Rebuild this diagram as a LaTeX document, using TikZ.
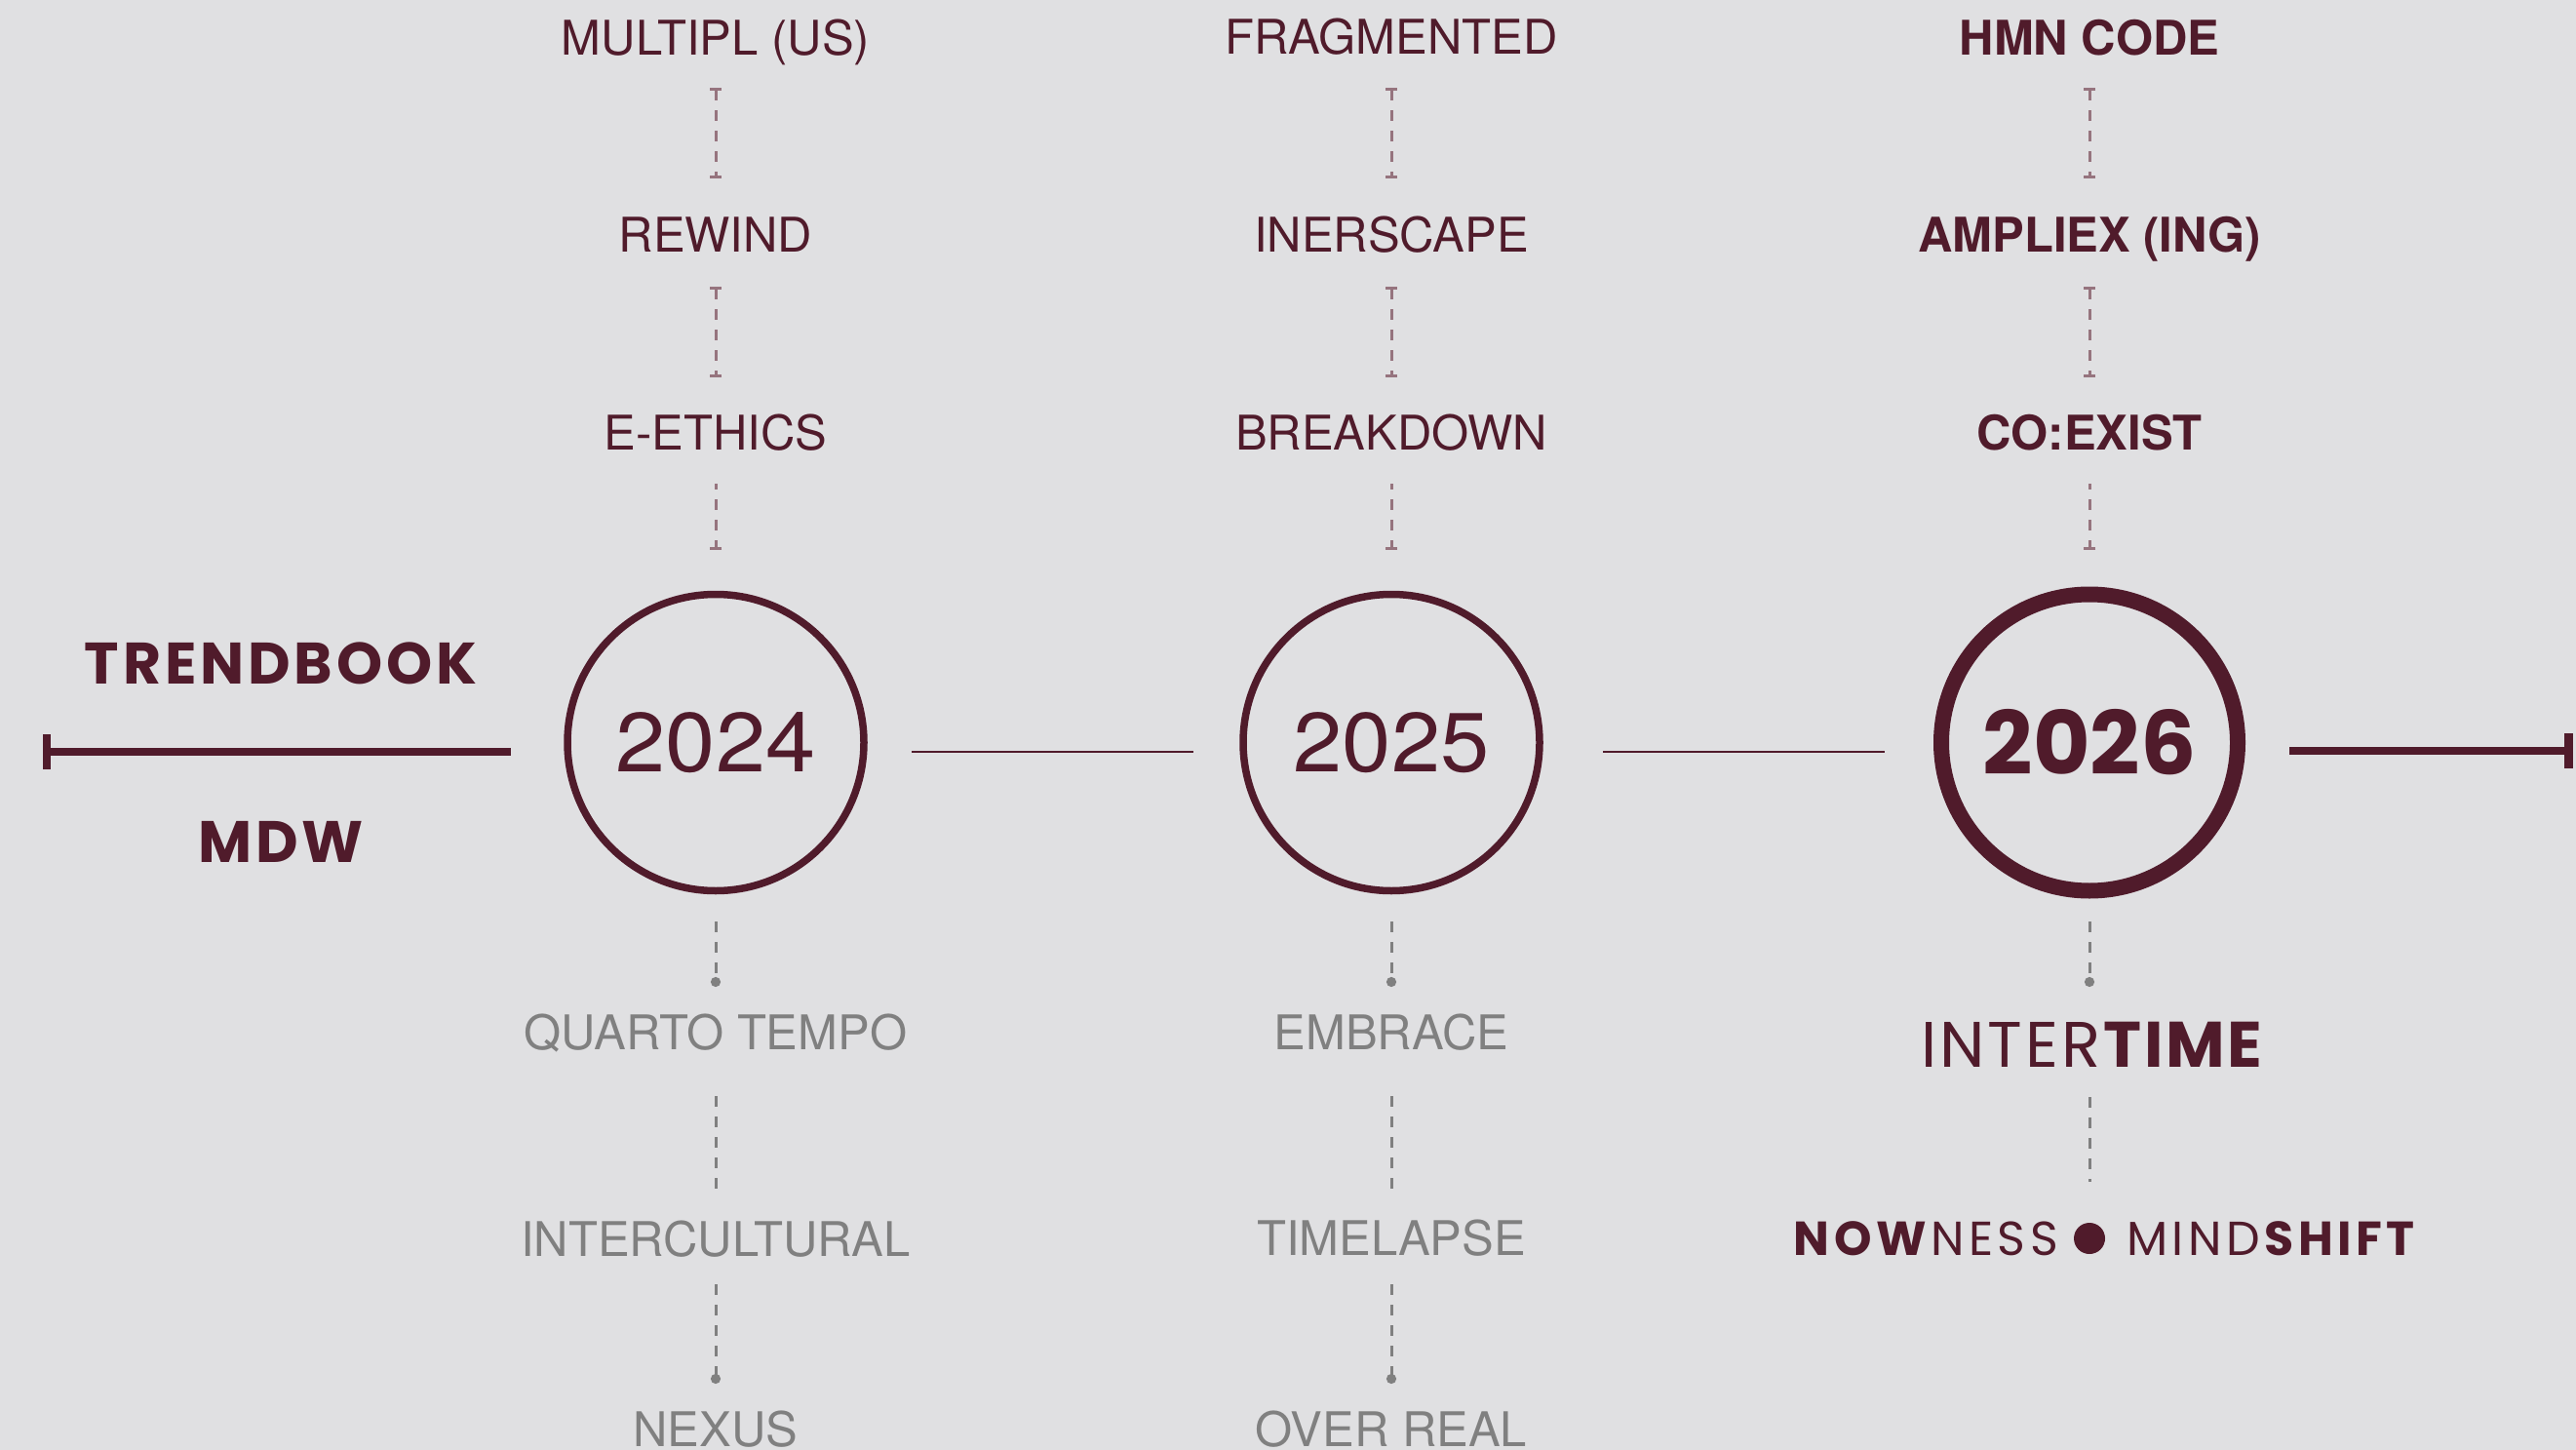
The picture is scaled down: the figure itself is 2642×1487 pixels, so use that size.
\documentclass[tikz,border=0pt]{standalone}
\usepackage{fontspec}
\setmainfont{TeX Gyre Heros}
\newfontfamily\geo{Poppins}
\newfontfamily\geoA[LetterSpace=6.5]{Poppins}
\newfontfamily\geoB[LetterSpace=4.4]{Poppins}
\newfontfamily\geoC[LetterSpace=9.2]{Poppins}
\usetikzlibrary{arrows.meta}
\definecolor{mrn}{RGB}{80,27,43}
\definecolor{mauve}{RGB}{150,116,126}
\definecolor{grey1}{RGB}{128,128,128}
\definecolor{bgc}{RGB}{224,224,226}
\begin{document}
\begin{tikzpicture}[x=1pt,y=-1pt,
  lab/.style={inner sep=0pt, outer sep=0pt, anchor=base, text=mrn, font=\fontsize{49}{50}\selectfont},
  labb/.style={lab, font=\fontsize{49}{50}\selectfont\bfseries},
  glab/.style={lab, text=grey1},
  yearc/.style={circle, draw=mrn, line width=7.5pt, minimum size=304pt, inner sep=0pt, text=mrn, font=\fontsize{86}{86}\selectfont},
  yearcb/.style={yearc, line width=16pt, font=\fontsize{90}{90}\selectfont\geo\bfseries},
  tdash/.style={draw=mauve, line width=3pt, dash pattern=on 11pt off 10pt},
  capboth/.style={arrows={Bar[width=12pt]-Bar[width=12pt]}},
  capend/.style={arrows={-Bar[width=12pt]}},
  gdash/.style={draw=grey1, line width=3pt, dash pattern=on 11pt off 10pt},
  dotend/.style={arrows={-Circle[length=10pt,width=10pt]}},
  mainline/.style={draw=mrn, line width=8pt, line cap=butt},
  thinline/.style={draw=mrn, line width=2pt},
  geob/.style={inner sep=0pt, outer sep=0pt, anchor=base, text=mrn, font=\fontsize{60}{60}\selectfont\geoA\bfseries},
]
\useasboundingbox (0,0) rectangle (2642,1487);
\fill[bgc] (0,0) rectangle (2642,1487);

% main timeline
\coordinate (la) at (48,770.5);
\coordinate (lb) at (524,770.5);
\coordinate (lbt) at (48,753);
\coordinate (lbb) at (48,789);
\draw[mainline] (la) -- (lb);
\draw[mainline] (lbt) -- (lbb);
\coordinate (ra) at (2348,770);
\coordinate (rb) at (2634,770);
\coordinate (rbt) at (2634,752);
\coordinate (rbb) at (2634,788);
\draw[mainline] (ra) -- (rb);
\draw[mainline, line width=9pt] (rbt) -- (rbb);

% year circles
\node[yearc] (c24) at (734,761.5) {\scalebox{1.07}[1]{2024}};
\node[yearc] (c25) at (1427,761.5) {\scalebox{1.05}[1]{2025}};
\node[yearcb] (c26) at (2143,761.5) {2026};
\coordinate (h1a) at (935,770.5);
\coordinate (h1b) at (1224,770.5);
\coordinate (h2a) at (1644,770.5);
\coordinate (h2b) at (1933,770.5);
\draw[thinline] (h1a) -- (h1b);
\draw[thinline] (h2a) -- (h2b);

% left titles
\node[geob] (tb) at (288,701) {TRENDBOOK};
\node[geob] (mdw) at (288,884) {MDW};

% column 2024 top
\node[lab] (a1) at (734,57) {MULTIPL (US)};
\node[lab] (a2) at (734,259) {REWIND};
\node[lab] (a3) at (734,461) {E-ETHICS};
% column 2025 top
\node[lab] (b1) at (1427,56) {FRAGMENTED};
\node[lab] (b2) at (1427,259) {INERSCAPE};
\node[lab] (b3) at (1427,461) {BREAKDOWN};
% column 2026 top
\node[labb] (e1) at (2143,57) {HMN CODE};
\node[labb] (e2) at (2143,259) {AMPLIEX (ING)};
\node[labb] (e3) at (2143,461) {CO:EXIST};

% top dashed connectors
\foreach \c/\n in {734/a, 1427/b, 2143/e}{
  \coordinate (\n t1s) at (\c,90);
  \coordinate (\n t1e) at (\c,183);
  \coordinate (\n t2s) at (\c,294);
  \coordinate (\n t2e) at (\c,387);
  \coordinate (\n t3s) at (\c,496);
  \coordinate (\n t3e) at (\c,564);
  \draw[tdash, capboth] (\n t1s) -- (\n t1e);
  \draw[tdash, capboth] (\n t2s) -- (\n t2e);
  \draw[tdash, capend, dash phase=5pt] (\n t3s) -- (\n t3e);
}

% bottom 2024
\node[glab] (a4) at (734,1076) {QUARTO TEMPO};
\node[glab] (a5) at (734,1288) {INTERCULTURAL};
\node[glab] (a6) at (734,1483) {NEXUS};
% bottom 2025
\node[glab] (b4) at (1427,1076) {EMBRACE};
\node[glab] (b5) at (1427,1287) {TIMELAPSE};
\node[glab] (b6) at (1427,1483) {OVER REAL};
% bottom 2026
\node[inner sep=0pt, anchor=base, text=mrn, font=\fontsize{66}{66}\selectfont\geoB] (e4) at (2147,1094) {INTER\textbf{TIME}};
\node[inner sep=0pt, anchor=base east, text=mrn, font=\fontsize{49}{49}\selectfont\geoC] (e5a) at (2111,1287) {\textbf{NOW}NESS};
\node[inner sep=0pt, anchor=base west, text=mrn, font=\fontsize{49}{49}\selectfont\geoC] (e5b) at (2181,1287) {MIND\textbf{SHIFT}};
\node[circle, fill=mrn, minimum size=32pt, inner sep=0pt] (e5dot) at (2143,1270) {};

% bottom dashed connectors
\foreach \c/\n in {734/a, 1427/b}{
  \coordinate (\n b1s) at (\c,945);
  \coordinate (\n b1e) at (\c,1012);
  \coordinate (\n b2s) at (\c,1124);
  \coordinate (\n b2e) at (\c,1227);
  \coordinate (\n b3s) at (\c,1317);
  \coordinate (\n b3e) at (\c,1419);
  \draw[gdash, dotend] (\n b1s) -- (\n b1e);
  \draw[gdash] (\n b2s) -- (\n b2e);
  \draw[gdash, dotend] (\n b3s) -- (\n b3e);
}
\coordinate (eb1s) at (2143,945);
\coordinate (eb1e) at (2143,1012);
\coordinate (eb2s) at (2143,1125);
\coordinate (eb2e) at (2143,1212);
\draw[gdash, dotend] (eb1s) -- (eb1e);
\draw[gdash] (eb2s) -- (eb2e);
\end{tikzpicture}
\end{document}
